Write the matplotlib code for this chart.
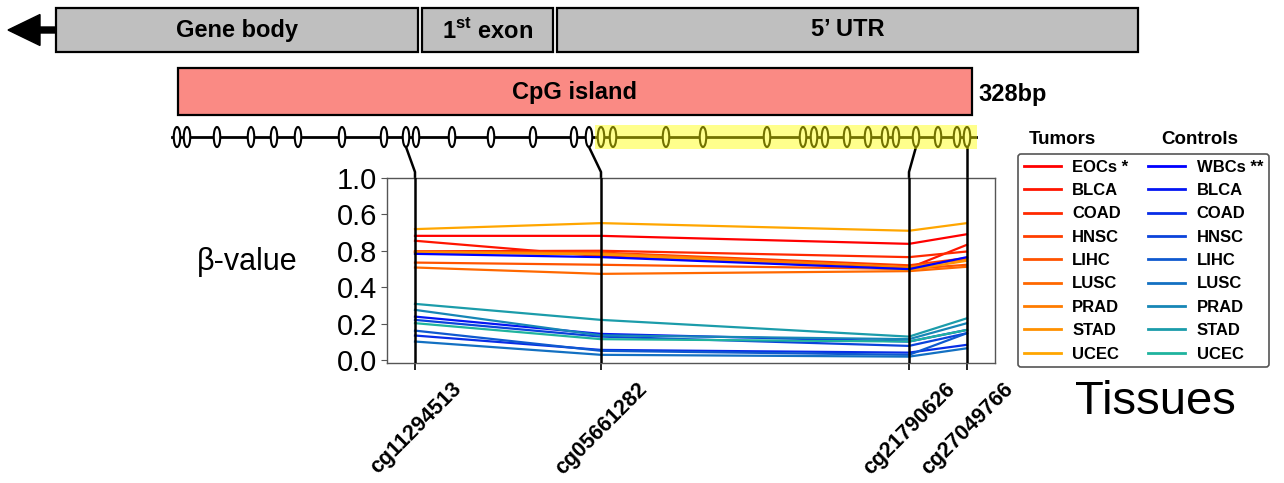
import matplotlib
matplotlib.use('Agg')
import matplotlib.pyplot as plt
from matplotlib.patches import Rectangle, Ellipse
import matplotlib.transforms as mtransforms
import numpy as np

plt.rcParams['font.family'] = ['Liberation Sans', 'DejaVu Sans']
plt.rcParams['mathtext.fontset'] = 'custom'
plt.rcParams['mathtext.rm'] = 'Liberation Sans'
plt.rcParams['mathtext.bf'] = 'Liberation Sans:bold'

W, H = 1284, 483

# probes on the drawing (x in drawing units)
probes = ['cg11294513', 'cg05661282', 'cg21790626', 'cg27049766']
probe_pos = [415, 601, 909, 967]
probe_site = [406, 589, 916, 967]

# gene structure
regions = ['Gene body', r'1$^{\mathbf{st}}$ exon', '5\u2019 UTR']
region_start = [56, 422, 557]
region_end = [418, 553, 1138]

island_start, island_end = 178, 972
highlight_start, highlight_end = 595, 977
cpg_sites = [177, 187, 217, 251, 274, 298, 342, 384, 406, 416, 452, 491, 533,
             574, 589, 601, 613, 666, 703, 767, 803, 814, 825, 847, 868, 885,
             896, 916, 938, 957, 967]

# beta values per probe
tumor_names = ['EOCs *', 'BLCA', 'COAD', 'HNSC', 'LIHC', 'LUSC', 'PRAD', 'STAD', 'UCEC']
tumor_beta = [
    [0.682, 0.682, 0.638, 0.691],
    [0.655, 0.570, 0.505, 0.633],
    [0.597, 0.600, 0.565, 0.596],
    [0.593, 0.590, 0.520, 0.560],
    [0.535, 0.523, 0.500, 0.523],
    [0.508, 0.473, 0.488, 0.512],
    [0.595, 0.585, 0.510, 0.554],
    [0.590, 0.580, 0.495, 0.545],
    [0.719, 0.752, 0.710, 0.752],
]
control_names = ['WBCs **', 'BLCA', 'COAD', 'HNSC', 'LIHC', 'LUSC', 'PRAD', 'STAD', 'UCEC']
control_beta = [
    [0.583, 0.565, 0.499, 0.565],
    [0.238, 0.143, 0.101, 0.165],
    [0.134, 0.055, 0.040, 0.083],
    [0.220, 0.128, 0.077, 0.147],
    [0.161, 0.050, 0.028, 0.147],
    [0.101, 0.028, 0.018, 0.064],
    [0.275, 0.135, 0.114, 0.202],
    [0.308, 0.220, 0.128, 0.229],
    [0.202, 0.114, 0.101, 0.165],
]
ytick_vals = [0.0, 0.2, 0.4, 0.6, 0.8, 1.0]
ytick_labels = ['0.0', '0.2', '0.4', '0.8', '0.6', '1.0']

tumor_colors = [(1.0, g, 0.0) for g in np.linspace(0.0, 0.65, 9)]
control_colors = [tuple(np.array([0.0, 0.0, 1.0]) * (1 - t) + np.array([0.12, 0.70, 0.62]) * t)
                  for t in np.linspace(0, 1, 9)]

fig = plt.figure(figsize=(12.84, 4.83), dpi=100)

# overlay for the gene drawing
ov = fig.add_axes([0, 0, 1, 1])
ov.set_xlim(0, W)
ov.set_ylim(H, 0)
ov.axis('off')

for name, s, e in zip(regions, region_start, region_end):
    ov.add_patch(Rectangle((s, 8), e - s, 44, fc='#BFBFBF', ec='black', lw=1.6))
    ov.text((s + e) / 2, 30, name, ha='center', va='center', fontsize=17, fontweight='bold')
ov.arrow(56, 30, -48, 0, width=6, head_width=31, head_length=32,
         length_includes_head=True, fc='black', ec='black')

ov.add_patch(Rectangle((island_start, 68), island_end - island_start, 47,
                       fc='#FA8A84', ec='black', lw=1.6))
ov.text((island_start + island_end) / 2, 92, 'CpG island', ha='center', va='center',
        fontsize=17, fontweight='bold')
ov.text(island_end + 6, 95, '328bp', ha='left', va='center', fontsize=17, fontweight='bold')

ov.plot([cpg_sites[0] - 5, highlight_end - 1], [137, 137], color='black', lw=2, zorder=2)
for x in cpg_sites:
    ov.add_patch(Ellipse((x, 137), 6.5, 20, fc='white', ec='black', lw=1.5, zorder=3))
ov.add_patch(Rectangle((highlight_start, 125), highlight_end - highlight_start, 24,
                       fc='yellow', ec='none', alpha=0.45, zorder=4))

for site, p in zip(probe_site, probe_pos):
    ov.plot([site, p, p], [147, 172, 178], color='black', lw=1.8)

ov.text(1062, 140, 'Tumors', ha='center', va='center', fontsize=13.5, fontweight='bold')
ov.text(1200, 140, 'Controls', ha='center', va='center', fontsize=13.5, fontweight='bold')
ov.text(247, 262, '\u03b2-value', ha='center', va='center', fontsize=22)
ov.text(1155, 402, 'Tissues', ha='center', va='center', fontsize=34)

# beta value panel
ax = fig.add_axes([387 / W, (H - 363) / H, (995 - 387) / W, (363 - 178) / H])
ax.set_xlim(387, 995)
ax.set_ylim(-0.017, 1.0)

handles = []
for vals, c in zip(tumor_beta, tumor_colors):
    handles.append(ax.plot(probe_pos, vals, color=c, lw=1.6)[0])
for vals, c in zip(control_beta, control_colors):
    handles.append(ax.plot(probe_pos, vals, color=c, lw=1.6)[0])
for p in probe_pos:
    ax.axvline(p, color='black', lw=1.8, zorder=5)

for sp in ax.spines.values():
    sp.set_color('#555555')
    sp.set_linewidth(1)
ax.set_yticks(ytick_vals, ytick_labels, fontsize=21)
ax.tick_params(axis='y', length=4, color='#555555', pad=3)
ax.set_xticks(probe_pos, probes, rotation=45, ha='right', rotation_mode='anchor',
              fontsize=15.5, fontweight='bold')
ax.tick_params(axis='x', length=5, width=1.2, color='black', pad=6)
offset = mtransforms.ScaledTranslation(0.36, 0, fig.dpi_scale_trans)
for lab in ax.get_xticklabels():
    lab.set_transform(lab.get_transform() + offset)

leg = fig.legend(handles=handles, labels=tumor_names + control_names, ncol=2,
                 loc='upper left', bbox_to_anchor=(1018 / W, 1 - 154 / H),
                 prop=dict(weight='bold', size=12), frameon=True, fancybox=True,
                 edgecolor='#555555', framealpha=1, handlelength=2.2,
                 handletextpad=0.7, columnspacing=1.2, labelspacing=0.5,
                 borderpad=0.35, borderaxespad=0)
leg.get_frame().set_linewidth(1.2)
for ln in leg.get_lines():
    ln.set_linewidth(2)

fig.savefig('out.png', dpi=100)
